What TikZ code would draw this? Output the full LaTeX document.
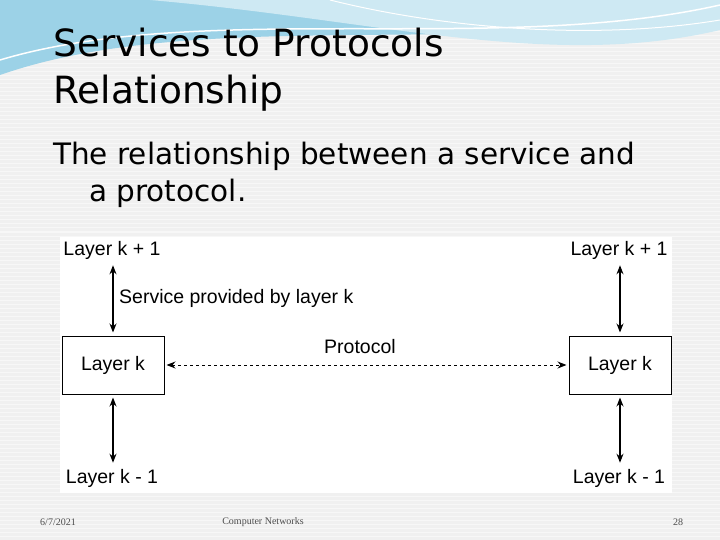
\documentclass[tikz,border=0pt]{standalone}
\usepackage{fontspec}
\setmainfont{DejaVu Sans}
\newfontfamily\diagfont{Liberation Sans}
\newfontfamily\footfont{Liberation Serif}
\usetikzlibrary{arrows.meta}
\definecolor{wave}{RGB}{90,180,215}
\begin{document}
\begin{tikzpicture}[x=1pt,y=-1pt,
    every node/.style={inner sep=0pt},
    layer box/.style={draw, line width=1pt, minimum width=102pt, minimum height=58pt, font=\diagfont\fontsize{19.5}{22}\selectfont},
    diag label/.style={font=\diagfont\fontsize{19.5}{22}\selectfont},
    service arrow/.style={draw, line width=1.2pt, {Stealth[length=9pt,width=7pt]}-{Stealth[length=9pt,width=7pt]}},
    protocol arrow/.style={draw, line width=1pt, dashed, {Stealth[length=9pt,width=7pt]}-{Stealth[length=9pt,width=7pt]}},
    foot/.style={font=\footfont\fontsize{10}{12}\selectfont, text=black!70},
    ]
\useasboundingbox (0,0) rectangle (720,540);
\fill[black!6] (0,0) rectangle (720,540);
\foreach \y in {0,4,...,540} \draw[white, line width=1pt, opacity=0.5] (0,\y) -- (720,\y);
% top wave
\fill[wave!60] (0,0) -- (720,0) -- (720,10) .. controls (500,60) and (200,5) .. (0,75) -- cycle;
\fill[wave!30] (150,0) -- (720,0) -- (720,30) .. controls (550,70) and (380,20) .. (150,0) -- cycle;
\draw[white, line width=1.5pt] (0,60) .. controls (200,0) and (500,55) .. (720,5);
\draw[white, line width=1pt] (330,0) .. controls (450,30) and (600,40) .. (720,20);
% title and text
\node[anchor=north west, align=left, font=\fontsize{37.5}{47}\selectfont] (title) at (53,28) {Services to Protocols\\Relationship};
\node[anchor=north west, align=left, font=\fontsize{29.5}{37}\selectfont] (text) at (53,142) {The relationship between a service and\\\hspace{36pt}a protocol.};
% diagram
\fill[white] (60,237) rectangle (672,493);
\node[diag label] (upL) at (112,250) {Layer k + 1};
\node[diag label] (upR) at (619,250) {Layer k + 1};
\node[layer box] (kL) at (113,365) {Layer k};
\node[layer box] (kR) at (620,365) {Layer k};
\node[diag label] (downL) at (112,478) {Layer k - 1};
\node[diag label] (downR) at (619,478) {Layer k - 1};
\node[diag label, anchor=west] (service) at (119,298) {Service provided by layer k};
\node[diag label] (protocol) at (360,347) {Protocol};
\draw[service arrow, shorten <=6pt, shorten >=3pt] (kL.north |- upL.south) -- (kL.north);
\draw[service arrow, shorten <=6pt, shorten >=3pt] (kR.north |- upR.south) -- (kR.north);
\draw[service arrow, shorten <=3pt, shorten >=6pt] (kL.south) -- (kL.south |- downL.north);
\draw[service arrow, shorten <=3pt, shorten >=6pt] (kR.south) -- (kR.south |- downR.north);
\draw[protocol arrow, shorten <=2pt, shorten >=2pt] (kL.east) -- (kR.west);
% footer
\node[foot] (date) at (58,522) {6/7/2021};
\node[foot] (course) at (263,522) {Computer Networks};
\node[foot] (page) at (678,522) {28};
\end{tikzpicture}
\end{document}
